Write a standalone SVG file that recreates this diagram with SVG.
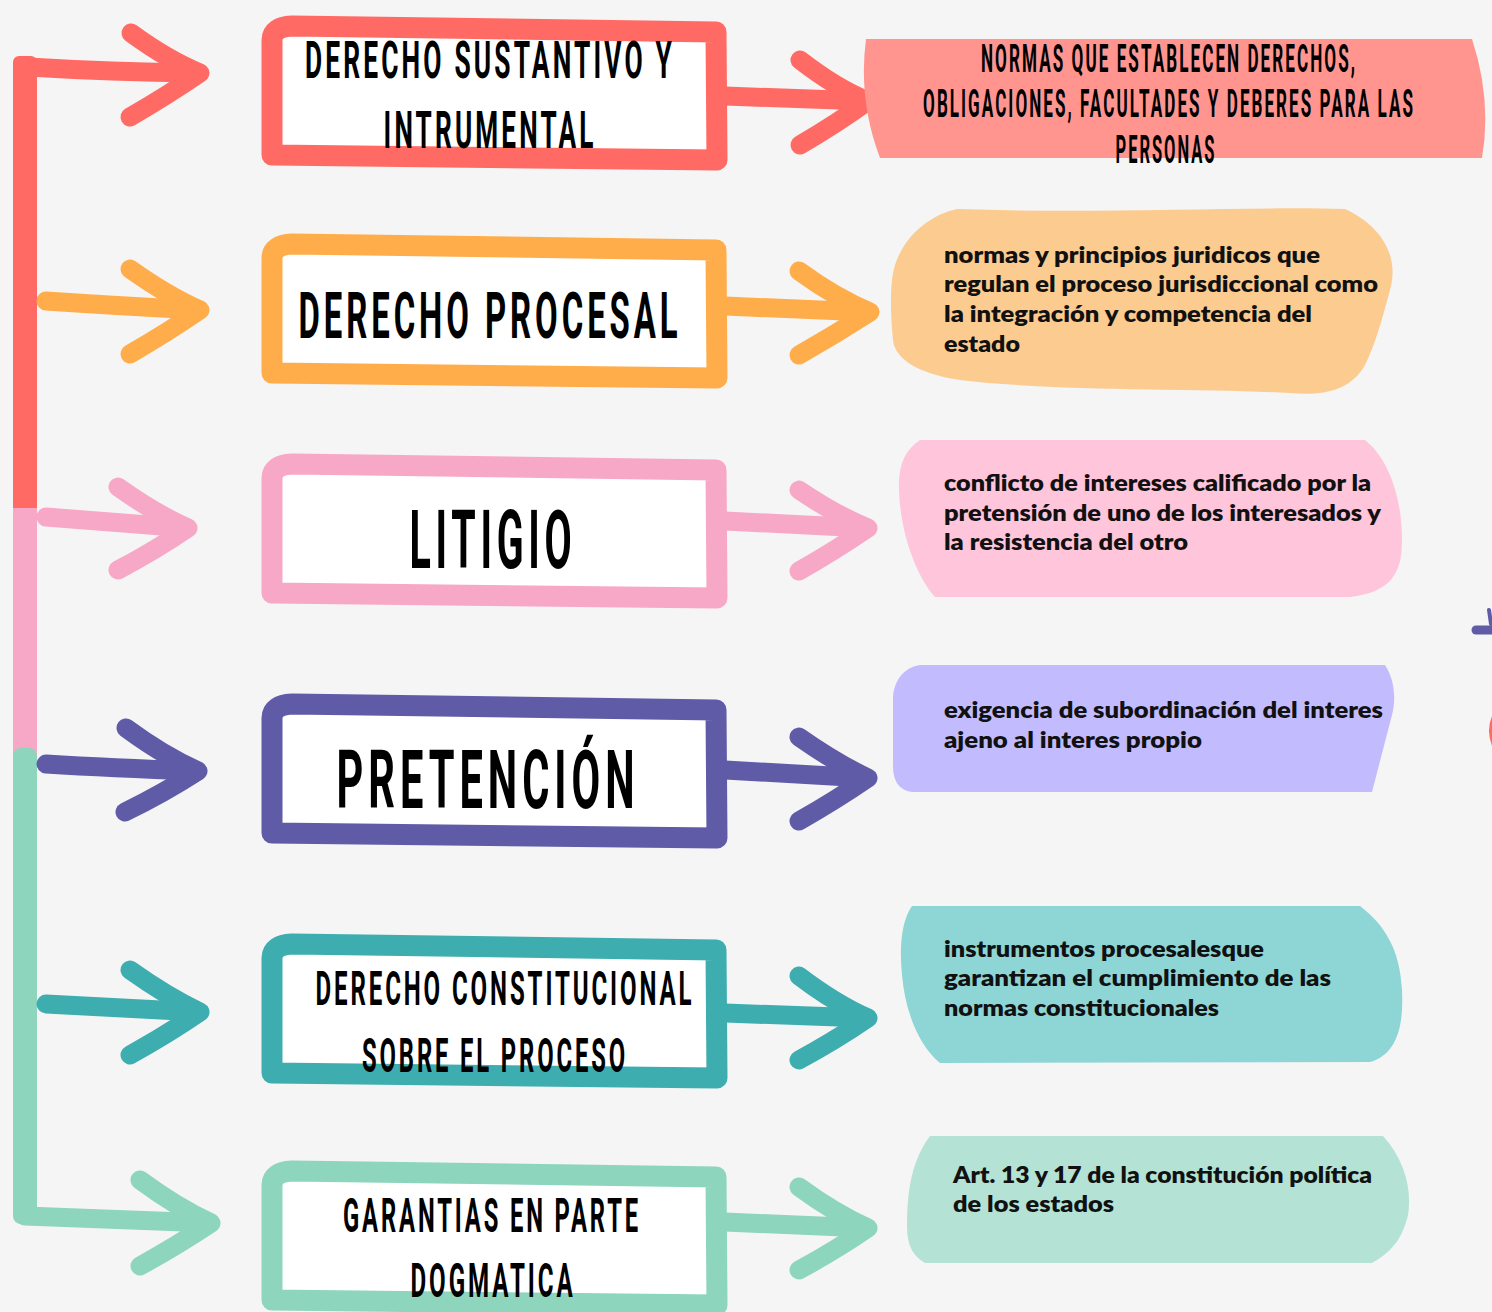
<svg xmlns="http://www.w3.org/2000/svg" width="1492" height="1312" viewBox="0 0 1492 1312">
<style>
.box{fill:#fff;stroke-width:21;stroke-linejoin:round}
.arr{fill:none;stroke-width:19;stroke-linecap:round;stroke-linejoin:round}
.t{font-family:"Roboto","DejaVu Sans",sans-serif;font-weight:700;fill:#000;text-anchor:middle;letter-spacing:0.12em}
.d{font-family:"Lato","Open Sans",sans-serif;font-weight:800;font-size:22px;fill:#111}
</style>
<rect width="1492" height="1312" fill="#f5f5f5"/>
<g id="connectors">
  <rect x="13" y="56" width="24" height="462" rx="6" fill="#ff6b64"/>
  <rect x="13" y="508" width="24" height="248" fill="#f7a8c6"/>
  <rect x="13" y="748" width="24" height="476" rx="8" fill="#8dd5bd"/>
  <g stroke="#ff6b64" class="arr"><path d="M28,67 Q110,72 199,73"/><path d="M131,33 Q168,60 200,73 Q168,95 130,117"/></g>
  <g stroke="#ffad4b" class="arr"><path d="M46,301 Q120,306 199,310"/><path d="M130,269 Q168,296 200,310 Q168,332 130,354"/></g>
  <g stroke="#f7a8c6" class="arr"><path d="M46,517 Q110,522 187,528"/><path d="M118,487 Q156,514 188,528 Q156,550 118,570"/></g>
  <g stroke="#5f5ba7" class="arr"><path d="M46,764 Q110,768 197,771"/><path d="M126,728 Q164,756 198,771 Q164,793 125,812"/></g>
  <g stroke="#3eadaf" class="arr"><path d="M46,1004 Q120,1008 199,1012"/><path d="M130,970 Q168,997 200,1012 Q168,1034 130,1055"/></g>
  <g stroke="#8dd5bd" class="arr"><path d="M25,1216 Q120,1220 210,1223"/><path d="M140,1180 Q178,1208 211,1223 Q178,1245 140,1266"/></g>
  <g stroke="#ff6b64" class="arr"><path d="M725,96 L866,101"/><path d="M800,60 Q836,88 868,101 Q836,124 800,145"/></g>
  <g stroke="#ffad4b" class="arr"><path d="M725,306 L868,312"/><path d="M799,271 Q836,298 870,312 Q836,334 799,355"/></g>
  <g stroke="#f7a8c6" class="arr"><path d="M725,521 L866,528"/><path d="M799,490 Q836,515 868,528 Q836,550 799,571"/></g>
  <g stroke="#5f5ba7" class="arr"><path d="M725,770 L866,778"/><path d="M799,737 Q836,763 868,778 Q836,800 799,821"/></g>
  <g stroke="#3eadaf" class="arr"><path d="M725,1013 L866,1018"/><path d="M799,976 Q836,1004 868,1018 Q836,1040 799,1060"/></g>
  <g stroke="#8dd5bd" class="arr"><path d="M725,1222 L866,1228"/><path d="M799,1187 Q836,1214 868,1228 Q836,1250 799,1270"/></g>
  <path d="M1476,630 L1492,630" stroke="#5f5ba7" stroke-width="9" stroke-linecap="round"/>
  <path d="M1489,610 L1491,624" stroke="#5f5ba7" stroke-width="4" stroke-linecap="round"/>
  <path d="M1492,716 Q1486,730 1492,746 Z" fill="#ff6b64"/>
</g>
<g id="n1">
  <path class="box" stroke="#ff6b64" d="M272,40 Q272,27 292,26 L716,32 L717,160 L272,155 Z"/>
  <text class="t" transform="translate(490,78) scale(0.55,1)" font-size="51" textLength="673" lengthAdjust="spacingAndGlyphs">DERECHO SUSTANTIVO Y</text>
  <text class="t" transform="translate(490,148) scale(0.55,1)" font-size="51" textLength="387" lengthAdjust="spacingAndGlyphs">INTRUMENTAL</text>
</g>
<g id="n2">
  <path class="box" stroke="#ffad4b" d="M272,258 Q272,245 292,244 L716,250 L717,378 L272,373 Z"/>
  <text class="t" transform="translate(490,338) scale(0.5,1)" font-size="65" textLength="766" lengthAdjust="spacingAndGlyphs">DERECHO PROCESAL</text>
</g>
<g id="n3">
  <path class="box" stroke="#f7a8c6" d="M272,478 Q272,465 292,464 L716,470 L717,598 L272,593 Z"/>
  <text class="t" transform="translate(493,568) scale(0.5,1)" font-size="82" textLength="334" lengthAdjust="spacingAndGlyphs">LITIGIO</text>
</g>
<g id="n4">
  <path class="box" stroke="#5f5ba7" d="M272,718 Q272,705 292,704 L716,710 L717,838 L272,833 Z"/>
  <text class="t" transform="translate(488,808) scale(0.5,1)" font-size="82" textLength="606" lengthAdjust="spacingAndGlyphs">PRETENCIÓN</text>
</g>
<g id="n5">
  <path class="box" stroke="#3eadaf" d="M272,958 Q272,945 292,944 L716,950 L717,1078 L272,1073 Z"/>
  <text class="t" transform="translate(505,1005) scale(0.5,1)" font-size="48" textLength="758" lengthAdjust="spacingAndGlyphs">DERECHO CONSTITUCIONAL</text>
  <text class="t" transform="translate(495,1072) scale(0.5,1)" font-size="48" textLength="532" lengthAdjust="spacingAndGlyphs">SOBRE EL PROCESO</text>
</g>
<g id="n6">
  <path class="box" stroke="#8dd5bd" d="M272,1185 Q272,1172 292,1171 L716,1177 L717,1305 L272,1300 Z"/>
  <text class="t" transform="translate(492,1232) scale(0.5,1)" font-size="48" textLength="596" lengthAdjust="spacingAndGlyphs">GARANTIAS EN PARTE</text>
  <text class="t" transform="translate(493,1297) scale(0.5,1)" font-size="48" textLength="330" lengthAdjust="spacingAndGlyphs">DOGMATICA</text>
</g>
<g id="d1">
  <path fill="#ff958e" d="M866,39 L1472,39 Q1492,100 1482,158 L880,158 Q858,100 866,39 Z"/>
  <text class="t" transform="translate(1169,72) scale(0.5,1)" font-size="38" textLength="752" lengthAdjust="spacingAndGlyphs">NORMAS QUE ESTABLECEN DERECHOS,</text>
  <text class="t" transform="translate(1169,117) scale(0.45,1)" font-size="38" textLength="1093" lengthAdjust="spacingAndGlyphs">OBLIGACIONES, FACULTADES Y DEBERES PARA LAS</text>
  <text class="t" transform="translate(1166,163) scale(0.5,1)" font-size="38" textLength="202" lengthAdjust="spacingAndGlyphs">PERSONAS</text>
</g>
<g id="d2">
  <path fill="#fbcb90" d="M957,209 C1100,214 1250,206 1345,209 C1380,225 1400,255 1390,290 C1382,320 1375,345 1365,365 C1350,392 1320,396 1290,393 C1200,388 1060,392 960,380 C920,374 895,360 893,340 C890,310 890,280 895,265 C905,235 930,215 957,209 Z"/>
  <text class="d" x="944" y="263" textLength="376" lengthAdjust="spacingAndGlyphs">normas y principios juridicos que</text>
  <text class="d" x="944" y="292" textLength="434" lengthAdjust="spacingAndGlyphs">regulan el proceso jurisdiccional como</text>
  <text class="d" x="944" y="322" textLength="368" lengthAdjust="spacingAndGlyphs">la integración y competencia del</text>
  <text class="d" x="944" y="352" textLength="76" lengthAdjust="spacingAndGlyphs">estado</text>
</g>
<g id="d3">
  <path fill="#ffc5da" d="M920,440 L1365,440 C1390,460 1402,500 1402,540 C1402,575 1390,592 1350,597 L935,597 C915,575 900,530 899,490 C898,465 905,450 920,440 Z"/>
  <text class="d" x="944" y="491" textLength="427" lengthAdjust="spacingAndGlyphs">conflicto de intereses calificado por la</text>
  <text class="d" x="944" y="521" textLength="437" lengthAdjust="spacingAndGlyphs">pretensión de uno de los interesados y</text>
  <text class="d" x="944" y="550" textLength="244" lengthAdjust="spacingAndGlyphs">la resistencia del otro</text>
</g>
<g id="d4">
  <path fill="#c2bcff" d="M920,665 L1385,665 C1395,680 1396,700 1392,715 L1372,792 L912,792 C898,790 893,780 893,765 L893,700 C893,680 905,667 920,665 Z"/>
  <text class="d" x="944" y="718" textLength="439" lengthAdjust="spacingAndGlyphs">exigencia de subordinación del interes</text>
  <text class="d" x="944" y="748" textLength="258" lengthAdjust="spacingAndGlyphs">ajeno al interes propio</text>
</g>
<g id="d5">
  <path fill="#8ed5d5" d="M912,906 L1360,906 C1385,925 1400,950 1402,990 C1404,1030 1395,1055 1370,1062 L940,1063 C918,1045 905,1010 902,975 C899,945 902,920 912,906 Z"/>
  <text class="d" x="944" y="957" textLength="320" lengthAdjust="spacingAndGlyphs">instrumentos procesalesque</text>
  <text class="d" x="944" y="986" textLength="387" lengthAdjust="spacingAndGlyphs">garantizan el cumplimiento de las</text>
  <text class="d" x="944" y="1016" textLength="275" lengthAdjust="spacingAndGlyphs">normas constitucionales</text>
</g>
<g id="d6">
  <path fill="#b4e2d4" d="M930,1136 L1383,1136 C1405,1160 1412,1190 1408,1215 C1403,1235 1395,1250 1372,1263 L925,1263 C912,1255 907,1245 907,1225 C907,1190 912,1160 930,1136 Z"/>
  <text class="d" x="953" y="1183" textLength="419" lengthAdjust="spacingAndGlyphs">Art. 13 y 17 de la constitución política</text>
  <text class="d" x="953" y="1212" textLength="161" lengthAdjust="spacingAndGlyphs">de los estados</text>
</g>
</svg>
